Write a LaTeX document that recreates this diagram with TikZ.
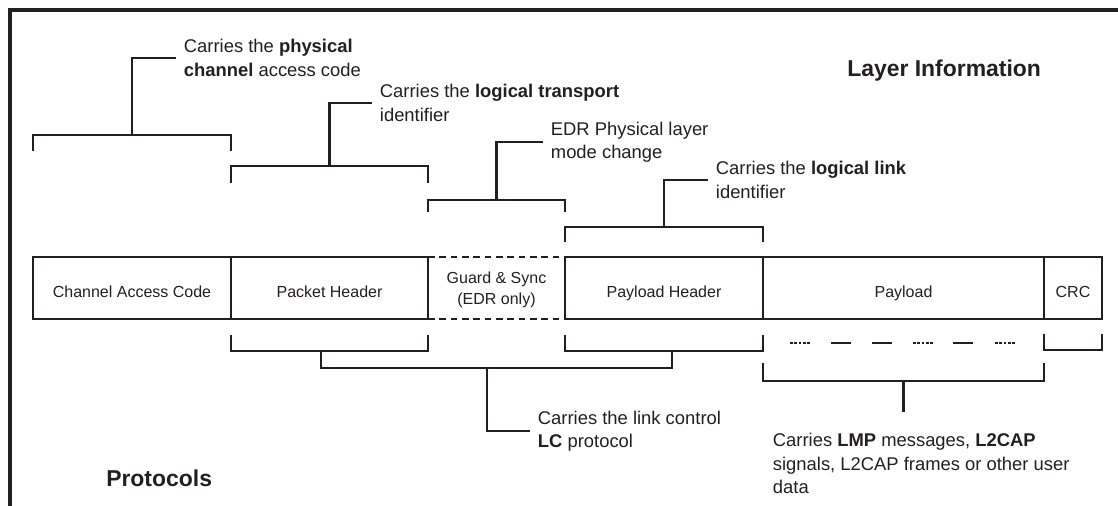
\documentclass[tikz,border=0pt]{standalone}
\usepackage{fontspec}
\setmainfont{Liberation Sans}
\usetikzlibrary{positioning}
\definecolor{ink}{HTML}{231F20}

\begin{document}
\begin{tikzpicture}[x=0.75pt, y=-0.75pt, line width=1.9pt, color=ink,
        field/.style={draw, inner sep=0pt, outer sep=0pt, minimum height=46.5pt, text height=14.6pt, text depth=0pt, align=center, font=\fontsize{12}{15.75}\selectfont},
        note/.style={anchor=west, align=left, inner xsep=5pt, inner ysep=0pt, font=\fontsize{13.8}{17.6}\selectfont},
        heading/.style={anchor=west, inner sep=0pt, font=\fontsize{17.2}{20}\selectfont\bfseries},
        finedash/.style={line width=1.5pt, dash pattern=on 2.2pt off 1pt}]
        \useasboundingbox (0,0) rectangle (1118,506);
        \draw[line width=3pt] (10,506) |- (1118,10);
        \node[field, minimum width=148.5pt, anchor=west] (cac) at (33,288) {Channel Access Code};
        \node[field, minimum width=147.75pt, right=0pt of cac] (ph) {Packet Header};
        \node[field, draw=none, text height=25.1pt, minimum width=102.75pt, right=0pt of ph] (gs) {Guard \& Sync\\(EDR only)};
        \node[field, minimum width=148.5pt, right=0pt of gs] (plh) {Payload Header};
        \node[field, minimum width=210.75pt, right=0pt of plh] (pl) {Payload};
        \node[field, minimum width=43.5pt, right=0pt of pl] (crc) {CRC};
        \draw[dash pattern=on 5pt off 3.5pt] (ph.north east) -- (plh.north west) (ph.south east) -- (plh.south west);
        \node[note] (tphys) at (176,58) {Carries the \textbf{physical}\\\textbf{channel} access code};
        \node[note] (ttrans) at (372,103) {Carries the \textbf{logical transport}\\identifier};
        \node[note] (tedr) at (543,142) {EDR Physical layer\\mode change};
        \node[note] (tlink) at (708,180) {Carries the \textbf{logical link}\\identifier};
        \node[note] (tlc) at (530,431) {Carries the link control\\\textbf{LC} protocol};
        \node[note, anchor=north west] (tpay) at (765,432) {Carries \textbf{LMP} messages, \textbf{L2CAP}\\signals, L2CAP frames or other user\\data};
        \node[heading] (layer) at (846,71) {Layer Information};
        \node[heading] (proto) at (105,478) {Protocols};
        \foreach \f/\h/\e/\t in {cac/135/151/tphys, ph/166/183/ttrans, gs/200/212/tedr, plh/227/242/tlink}
                \draw (\f.west |- 0,\e) |- (\f.east |- 0,\h) -- (\f.east |- 0,\e) (\f.center |- 0,\h) |- (\t.west);
        \foreach \f/\h/\e in {ph/351/335, plh/351/335, crc/350/334, pl/381/363}
                \draw (\f.west |- 0,\e) |- (\f.east |- 0,\h) -- (\f.east |- 0,\e);
        \coordinate[left=6.4pt of ph.south] (phm);
        \coordinate[right=6pt of plh.south] (plhm);
        \coordinate[left=7pt of gs.south] (lcm);
        \draw (phm |- 0,351) |- (plhm |- 0,368) -- (plhm |- 0,351);
        \draw (lcm |- 0,368) |- (tlc.west);
        \coordinate (pend) at (pl.center |- 0,412);
        \draw (pl.center |- 0,381) -- (pend);
        \foreach \a in {831,872,953}
                \draw[line width=1.5pt] (\a,343) -- ++(20,0);
        \foreach \a in {790,913,995}
                \draw[finedash] (\a,343) -- ++(20,0);
\end{tikzpicture}
\end{document}
